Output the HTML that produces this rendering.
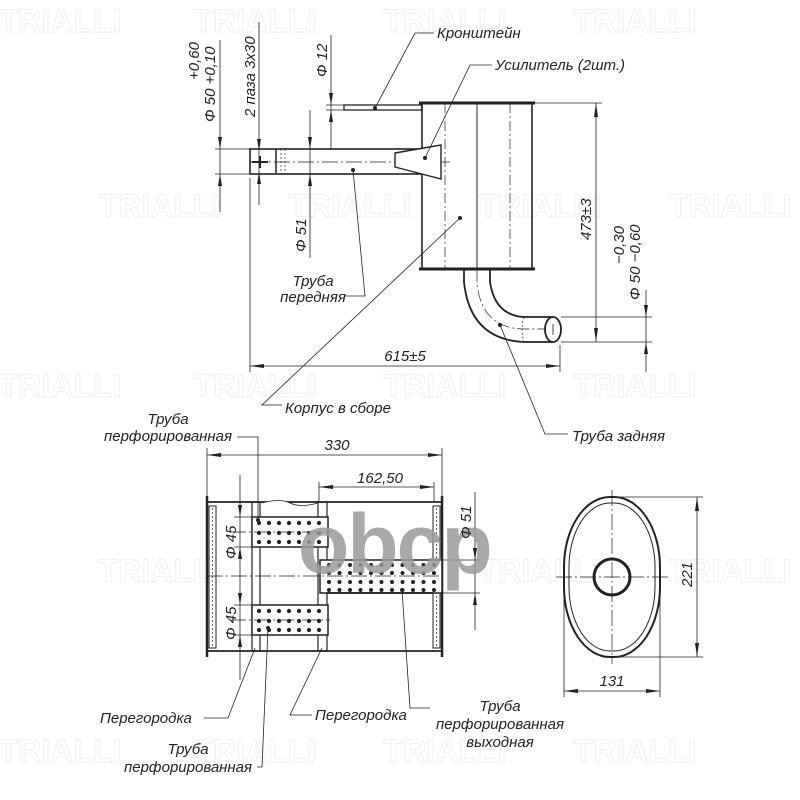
<!DOCTYPE html>
<html><head><meta charset="utf-8"><style>
html,body{margin:0;padding:0;background:#fff}
svg{display:block}
.t{font-family:"Liberation Sans",sans-serif;font-style:italic;font-size:15px;fill:#222}
.wm{font-family:"Liberation Sans",sans-serif;font-size:32px;fill:none;stroke:#f2f2f2;stroke-width:1.2;font-weight:bold}
</style></head><body>
<svg width="800" height="800" viewBox="0 0 800 800" xmlns="http://www.w3.org/2000/svg">
<g class="wm" text-anchor="middle">
<text x="60" y="32">TRIALLI</text><text x="255" y="32">TRIALLI</text><text x="445" y="32">TRIALLI</text><text x="635" y="32">TRIALLI</text>
<text x="160" y="217">TRIALLI</text><text x="350" y="217">TRIALLI</text><text x="540" y="217">TRIALLI</text><text x="730" y="217">TRIALLI</text>
<text x="60" y="397">TRIALLI</text><text x="255" y="397">TRIALLI</text><text x="445" y="397">TRIALLI</text><text x="635" y="397">TRIALLI</text>
<text x="160" y="582">TRIALLI</text><text x="540" y="582">TRIALLI</text><text x="730" y="582">TRIALLI</text>
<text x="60" y="762">TRIALLI</text><text x="255" y="762">TRIALLI</text><text x="445" y="762">TRIALLI</text><text x="635" y="762">TRIALLI</text>
</g>

<g stroke="#222" fill="none" stroke-width="1">
<rect x="422" y="103" width="110" height="166" stroke-width="1.6"/>
<line x1="419" y1="103" x2="535" y2="103" stroke-width="3"/>
<line x1="419" y1="269" x2="535" y2="269" stroke-width="3"/>
<line x1="477" y1="103" x2="477" y2="269"/>
<line x1="445" y1="103" x2="445" y2="269" stroke-dasharray="10,3,2,3" stroke-width="0.7"/>
<line x1="510" y1="103" x2="510" y2="269" stroke-dasharray="10,3,2,3" stroke-width="0.7"/>
<rect x="344" y="105" width="78" height="5" stroke-width="1.3"/>
<rect x="250" y="149" width="172" height="25" stroke-width="1.6"/>
<line x1="276" y1="149" x2="276" y2="174" stroke-width="1.5"/>
<line x1="281" y1="149" x2="281" y2="174" stroke-dasharray="2,2" stroke-width="0.7"/>
<line x1="285" y1="149" x2="285" y2="174" stroke-dasharray="2,2" stroke-width="0.7"/>
<line x1="252" y1="162" x2="268" y2="162" stroke-width="2"/>
<line x1="260" y1="156" x2="260" y2="168" stroke-width="2"/>
<line x1="250" y1="162" x2="450" y2="162" stroke-dasharray="16,3,2,3" stroke-width="0.7"/>
<polygon points="395,153 441,145 441,179 395,167" fill="#fff" stroke-width="1.4"/>
<path d="M464 270 L464 282 Q470 340 525 342 L553 342" stroke-width="1.8"/>
<path d="M490 270 L490 282 Q495 316 525 317 L553 317" stroke-width="1.8"/>
<path d="M477 270 L477 284 Q482 329 525 329 L562 329" stroke-dasharray="12,3,2,3" stroke-width="0.7"/>
<path d="M524 317 Q520 329 524 342" stroke-dasharray="2,2" stroke-width="0.7"/>
<ellipse cx="553" cy="329.5" rx="8" ry="12.5" stroke-width="1.8" fill="#fff"/>
<line x1="553" y1="324" x2="553" y2="335" stroke-width="0.8"/>

<line x1="220" y1="40" x2="220" y2="212" stroke-width="0.8"/>
<line x1="215" y1="149" x2="250" y2="149" stroke-width="0.8"/>
<line x1="215" y1="174" x2="250" y2="174" stroke-width="0.8"/>
<line x1="259" y1="22" x2="259" y2="205" stroke-width="0.8"/>
<line x1="331" y1="35" x2="331" y2="150" stroke-width="0.8"/>
<line x1="326" y1="105" x2="344" y2="105" stroke-width="0.8"/>
<line x1="326" y1="110" x2="344" y2="110" stroke-width="0.8"/>
<line x1="310" y1="110" x2="310" y2="258" stroke-width="0.8"/>
<line x1="250" y1="178" x2="250" y2="372" stroke-width="0.8"/>
<line x1="560" y1="345" x2="560" y2="372" stroke-width="0.8"/>
<line x1="250" y1="366" x2="560" y2="366" stroke-width="0.8"/>
<line x1="535" y1="103" x2="602" y2="103" stroke-width="0.8"/>
<line x1="561" y1="342" x2="652" y2="342" stroke-width="0.8"/>
<line x1="561" y1="317" x2="652" y2="317" stroke-width="0.8"/>
<line x1="596" y1="103" x2="596" y2="342" stroke-width="0.8"/>
<line x1="646" y1="290" x2="646" y2="372" stroke-width="0.8"/>

<polyline points="375,108 415,33 434,33" stroke-width="0.8"/>
<polyline points="425,158 470,65 492,65" stroke-width="0.8"/>
<polyline points="353,170 365,296 345,296" stroke-width="0.8"/>
<polyline points="460,218 262,405 282,405" stroke-width="0.8"/>
<polyline points="500,325 545,434 568,434" stroke-width="0.8"/>

<line x1="207" y1="502" x2="442" y2="502" stroke-width="1.8"/>
<line x1="207" y1="651" x2="442" y2="651" stroke-width="1.8"/>
<line x1="207" y1="496" x2="207" y2="657" stroke-width="2.5"/>
<line x1="442" y1="496" x2="442" y2="657" stroke-width="2.5"/>
<rect x="209" y="506" width="7" height="142" stroke-width="1"/>
<line x1="212.5" y1="508" x2="212.5" y2="646" stroke-dasharray="2,2" stroke-width="0.7"/>
<rect x="433" y="506" width="7" height="142" stroke-width="1"/>
<line x1="436.5" y1="508" x2="436.5" y2="646" stroke-dasharray="2,2" stroke-width="0.7"/>
<rect x="252" y="502" width="8" height="149" stroke-width="1.2"/>
<rect x="318" y="502" width="9" height="149" stroke-width="1.2"/>
<path d="M262 503 Q280 498 290 503 T318 503" stroke-width="0.8" fill="#fff"/>
<rect x="252" y="517" width="76" height="30" fill="#fff" stroke-width="1.5"/>
<rect x="252" y="605" width="76" height="30" fill="#fff" stroke-width="1.5"/>
<rect x="320" y="560" width="122" height="33" fill="#fff" stroke-width="1.5"/>
<line x1="327" y1="593" x2="433" y2="593" stroke-width="1.8"/>
<line x1="207" y1="576" x2="442" y2="576" stroke-dasharray="16,3,2,3" stroke-width="0.7"/>
<line x1="230" y1="532" x2="330" y2="532" stroke-dasharray="16,3,2,3" stroke-width="0.7"/>
<line x1="230" y1="620" x2="330" y2="620" stroke-dasharray="16,3,2,3" stroke-width="0.7"/>
<line x1="207" y1="448" x2="207" y2="496" stroke-width="0.8"/>
<line x1="442" y1="448" x2="442" y2="496" stroke-width="0.8"/>
<line x1="207" y1="455" x2="442" y2="455" stroke-width="0.8"/>
<line x1="319" y1="482" x2="319" y2="502" stroke-width="0.8"/>
<line x1="434" y1="482" x2="434" y2="502" stroke-width="0.8"/>
<line x1="319" y1="487" x2="434" y2="487" stroke-width="0.8"/>
<line x1="240" y1="475" x2="240" y2="680" stroke-width="0.8"/>
<line x1="234" y1="517" x2="252" y2="517" stroke-width="0.8"/>
<line x1="234" y1="547" x2="252" y2="547" stroke-width="0.8"/>
<line x1="234" y1="605" x2="252" y2="605" stroke-width="0.8"/>
<line x1="234" y1="635" x2="252" y2="635" stroke-width="0.8"/>
<line x1="442" y1="560" x2="480" y2="560" stroke-width="0.8"/>
<line x1="442" y1="593" x2="480" y2="593" stroke-width="0.8"/>
<line x1="475" y1="492" x2="475" y2="630" stroke-width="0.8"/>
<rect x="564" y="497" width="96" height="160" rx="46" ry="70" stroke-width="2"/>
<rect x="569" y="503" width="86" height="148" rx="41" ry="64" stroke-width="1"/>
<circle cx="612" cy="577" r="18" stroke-width="3"/>
<line x1="612" y1="490" x2="612" y2="664" stroke-dasharray="16,3,2,3" stroke-width="0.7"/>
<line x1="556" y1="577" x2="668" y2="577" stroke-dasharray="16,3,2,3" stroke-width="0.7"/>
<line x1="612" y1="497" x2="703" y2="497" stroke-width="0.8"/>
<line x1="612" y1="657" x2="703" y2="657" stroke-width="0.8"/>
<line x1="697" y1="497" x2="697" y2="657" stroke-width="0.8"/>
<line x1="564" y1="580" x2="564" y2="697" stroke-width="0.8"/>
<line x1="660" y1="580" x2="660" y2="697" stroke-width="0.8"/>
<line x1="564" y1="691" x2="660" y2="691" stroke-width="0.8"/>
<polyline points="237,437 258,437 258,520" stroke-width="0.8"/>
<polyline points="204,718 228,718 255,648" stroke-width="0.8"/>
<polyline points="312,715 290,715 322,648" stroke-width="0.8"/>
<polyline points="257,767 262,767 268,628" stroke-width="0.8"/>
<polyline points="430,708 410,708 402,590" stroke-width="0.8"/>
</g>

<g fill="#222">
<g id="r1">
<circle cx="259" cy="523" r="2.1"/><circle cx="269" cy="523" r="2.1"/><circle cx="279" cy="523" r="2.1"/><circle cx="289" cy="523" r="2.1"/><circle cx="299" cy="523" r="2.1"/><circle cx="309" cy="523" r="2.1"/><circle cx="319" cy="523" r="2.1"/>
</g>
<use href="#r1" y="10"/><use href="#r1" y="19"/>
<use href="#r1" y="88"/><use href="#r1" y="98"/><use href="#r1" y="107"/>
<g id="r2">
<circle cx="329" cy="565" r="2"/><circle cx="339.5" cy="565" r="2"/><circle cx="350" cy="565" r="2"/><circle cx="360.5" cy="565" r="2"/><circle cx="371" cy="565" r="2"/><circle cx="381.5" cy="565" r="2"/><circle cx="392" cy="565" r="2"/><circle cx="402.5" cy="565" r="2"/><circle cx="413" cy="565" r="2"/><circle cx="423.5" cy="565" r="2"/><circle cx="434" cy="565" r="2"/>
</g>
<use href="#r2" y="8"/><use href="#r2" y="17"/><use href="#r2" y="25"/>
<circle cx="375" cy="108" r="2"/><circle cx="425" cy="158" r="2"/><circle cx="353" cy="170" r="2"/><circle cx="460" cy="218" r="2"/><circle cx="500" cy="325" r="2"/>
<circle cx="258" cy="520" r="2"/><circle cx="268" cy="628" r="2"/><circle cx="402" cy="590" r="2"/>
<polygon points="218,137 222,137 220,149"/><polygon points="218,186 222,186 220,174"/>
<polygon points="257,139 261,139 259,151"/><polygon points="257,184 261,184 259,172"/>
<polygon points="329,93 333,93 331,105"/><polygon points="329,122 333,122 331,110"/>
<polygon points="308,137 312,137 310,149"/><polygon points="308,186 312,186 310,174"/>
<polygon points="250,366 264,364 264,368"/><polygon points="560,366 546,364 546,368"/>
<polygon points="596,103 594,117 598,117"/><polygon points="596,342 594,328 598,328"/>
<polygon points="644,305 648,305 646,317"/><polygon points="644,354 648,354 646,342"/>
<polygon points="207,455 221,453 221,457"/><polygon points="442,455 428,453 428,457"/>
<polygon points="319,487 333,485 333,489"/><polygon points="434,487 420,485 420,489"/>
<polygon points="238,505 242,505 240,517"/><polygon points="238,559 242,559 240,547"/>
<polygon points="238,593 242,593 240,605"/><polygon points="238,647 242,647 240,635"/>
<polygon points="473,548 477,548 475,560"/><polygon points="473,605 477,605 475,593"/>
<polygon points="697,497 695,511 699,511"/><polygon points="697,657 695,643 699,643"/>
<polygon points="564,691 578,689 578,693"/><polygon points="660,691 646,689 646,693"/>
</g>

<text x="298" y="573" font-family="Liberation Sans, sans-serif" font-weight="bold" font-size="84" fill="#9a9a9a" fill-opacity="0.85" letter-spacing="-2">obcp</text>

<g class="t">
<text x="437" y="38">Кронштейн</text>
<text x="495" y="70">Усилитель (2шт.)</text>
<text x="313" y="286" text-anchor="middle">Труба</text>
<text x="313" y="302" text-anchor="middle">передняя</text>
<text x="285" y="413">Корпус в сборе</text>
<text x="572" y="441">Труба задняя</text>
<text x="405" y="361" text-anchor="middle">615±5</text>
<text x="168" y="424" text-anchor="middle">Труба</text>
<text x="168" y="441" text-anchor="middle">перфорированная</text>
<text x="337" y="450" text-anchor="middle">330</text>
<text x="380" y="483" text-anchor="middle">162,50</text>
<text x="100" y="723">Перегородка</text>
<text x="315" y="720">Перегородка</text>
<text x="188" y="754" text-anchor="middle">Труба</text>
<text x="188" y="772" text-anchor="middle">перфорированная</text>
<text x="500" y="711" text-anchor="middle">Труба</text>
<text x="500" y="729" text-anchor="middle">перфорированная</text>
<text x="500" y="747" text-anchor="middle">выходная</text>
<text x="612" y="686" text-anchor="middle">131</text>
<text transform="translate(215,122) rotate(-90)">Φ 50 +0,10</text>
<text transform="translate(199,80) rotate(-90)">+0,60</text>
<text transform="translate(255,117) rotate(-90)">2 паза 3х30</text>
<text transform="translate(327,77) rotate(-90)">Φ 12</text>
<text transform="translate(306,252) rotate(-90)">Φ 51</text>
<text transform="translate(591,240) rotate(-90)">473±3</text>
<text transform="translate(640,300) rotate(-90)">Φ 50 −0,60</text>
<text transform="translate(624,264) rotate(-90)">−0,30</text>
<text transform="translate(236,559) rotate(-90)">Φ 45</text>
<text transform="translate(236,640) rotate(-90)">Φ 45</text>
<text transform="translate(471,539) rotate(-90)">Φ 51</text>
<text transform="translate(692,587) rotate(-90)">221</text>
</g>
</svg>
</body></html>
